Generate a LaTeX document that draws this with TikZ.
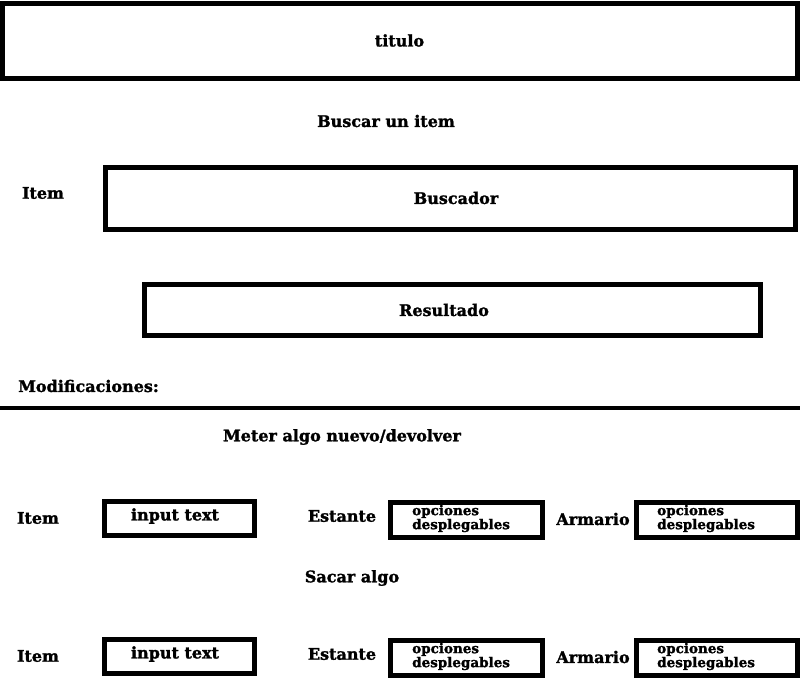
\documentclass[tikz,border=0pt]{standalone}
\usepackage{fontspec}
\setmainfont[BoldFeatures={FakeBold=1.5}]{DejaVu Serif}
\begin{document}
\begin{tikzpicture}[x=1pt,y=-1pt,
  box/.style={draw=black,line width=5pt,minimum width=#1,inner sep=0pt},
  lbl/.style={font=\bfseries\fontsize{16}{18}\selectfont,inner sep=0pt},
  small/.style={font=\bfseries\fontsize{13.5}{14}\selectfont,inner sep=0pt,align=left,anchor=west}]
\useasboundingbox (0,0) rectangle (800,683);
% top
\node[box=795pt,minimum height=75pt,lbl] (titulo) at (399.5,40.5) {titulo};
\node[lbl] (buscar) at (386,121) {Buscar un item};
\node[lbl] (item0) at (43,193) {Item};
\node[box=690pt,minimum height=62pt,lbl] (buscador) at (450,198) {};
\node[lbl] (buscadortxt) at (456,198) {Buscador};
\node[box=616pt,minimum height=51pt,lbl] (resultado) at (452,309.5) {};
\node[lbl] (resultadotxt) at (444,310) {Resultado};
\node[lbl,anchor=west] (modif) at (18,386) {Modificaciones:};
\coordinate (l1) at (0,408);
\coordinate (l2) at (800,408);
\draw[line width=4.5pt] (l1) -- (l2);
\node[lbl] (meter) at (342,437) {Meter algo nuevo/devolver};
% row 1
\node[lbl] (item1) at (38,518) {Item};
\node[box=150pt,minimum height=34pt] (in1) at (179,518) {};
\node[lbl] (in1t) at (175,516) {input text};
\node[lbl] (est1) at (342,516) {Estante};
\node[box=152pt,minimum height=35pt] (op1) at (466,519.5) {};
\node[small] (op1t) at (412,518.5) {opciones\\desplegables};
\node[lbl] (arm1) at (593,519) {Armario};
\node[box=161pt,minimum height=35pt] (op2) at (716.5,519.5) {};
\node[small] (op2t) at (657,518.5) {opciones\\desplegables};
% sacar
\node[lbl] (sacar) at (352,578) {Sacar algo};
% row 2
\node[lbl] (item2) at (38,656) {Item};
\node[box=150pt,minimum height=34pt] (in2) at (179,656) {};
\node[lbl] (in2t) at (175,654) {input text};
\node[lbl] (est2) at (342,654) {Estante};
\node[box=152pt,minimum height=35pt] (op3) at (466,657.5) {};
\node[small] (op3t) at (412,656.5) {opciones\\desplegables};
\node[lbl] (arm2) at (593,657) {Armario};
\node[box=161pt,minimum height=35pt] (op4) at (716.5,657.5) {};
\node[small] (op4t) at (657,656.5) {opciones\\desplegables};
\end{tikzpicture}
\end{document}
